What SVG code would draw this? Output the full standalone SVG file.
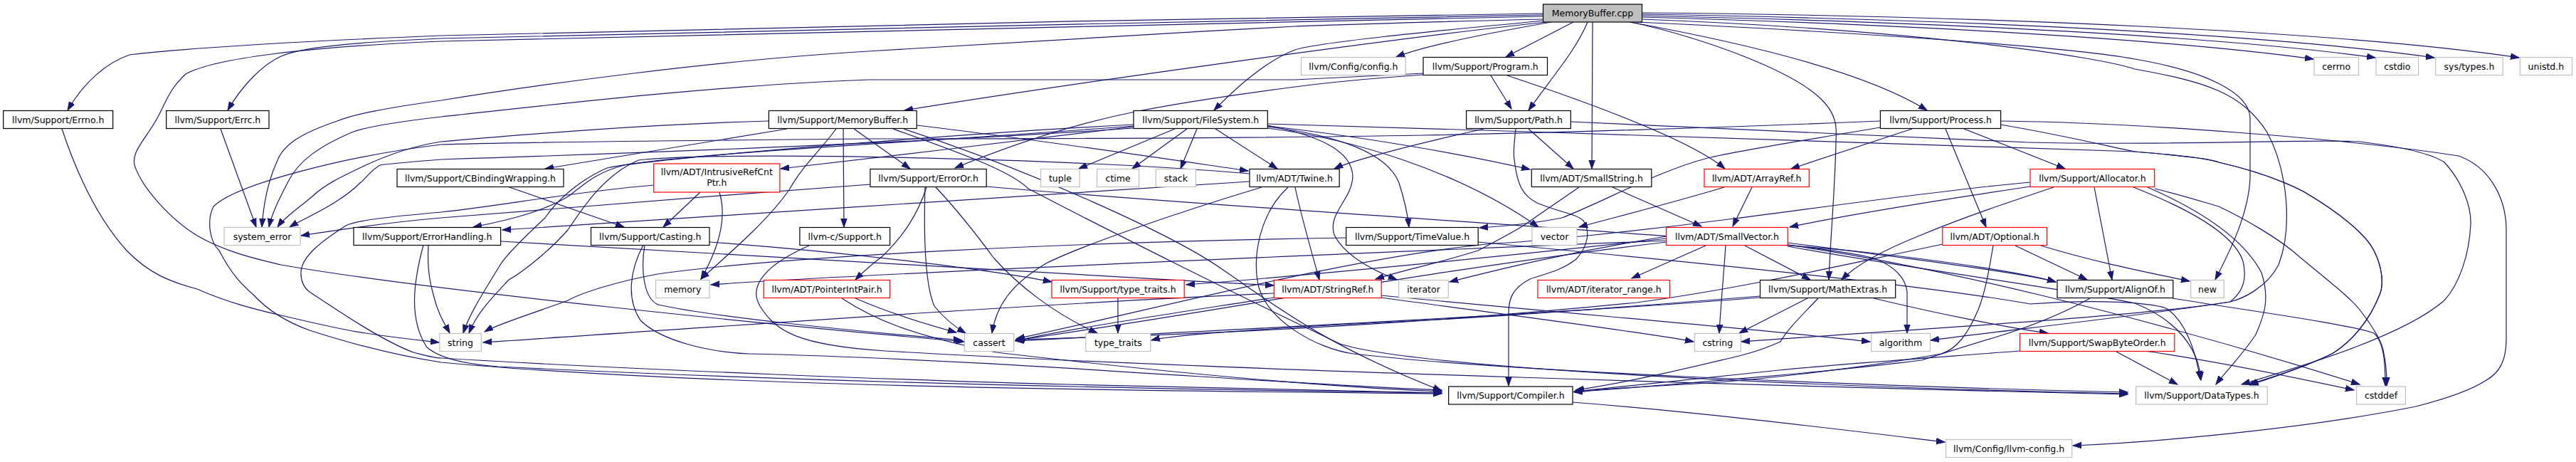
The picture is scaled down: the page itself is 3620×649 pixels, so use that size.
<svg xmlns="http://www.w3.org/2000/svg" width="3620" height="649" viewBox="0 0 3620 649">
<defs>
<marker id="a" markerUnits="userSpaceOnUse" markerWidth="14" markerHeight="10" refX="12" refY="5" orient="auto"><path d="M0,0.8 L12,5 L0,9.2 z" fill="#191970" stroke="#191970" stroke-width="1"/></marker>
<style>
.n rect{fill:#fff;stroke:#000;stroke-width:1.2}
.g rect{stroke:#bfbfbf}
.r rect{stroke:#ff0000}
.root rect{fill:#bfbfbf}
text{font-family:"DejaVu Sans","Liberation Sans",sans-serif;font-size:12.5px;text-anchor:middle;fill:#000}
#edges path{fill:none;stroke:#191970;stroke-width:1.2;marker-end:url(#a)}
</style>
</defs>
<rect width="3620" height="649" fill="#fff"/>
<g id="edges">
<path d="M2168,19 C1700,26 900,40 620,50 C420,58 260,68 182,77 C150,88 118,115 95,155"/>
<path d="M2168,21 C1700,30 900,46 620,54 C480,60 420,68 395,79 C370,90 340,120 320,155"/>
<path d="M2168,23 C1700,34 900,50 620,58 C430,66 300,82 261,104 C238,125 235,140 221,166 C205,195 182,215 190,235 C200,262 235,305 277,331 C320,356 370,366 395,372 C600,408 1100,458 1355,480"/>
<path d="M2168,27 C1950,32 1900,34 1820,37 C1600,48 1350,66 1220,72 C1000,85 750,120 620,141 C540,152 500,160 474,170 C430,185 400,200 390,225 C376,255 370,290 368,319"/>
<path d="M2172,31 C1950,55 1500,118 1271,155"/>
<path d="M2180,31 C2100,45 2000,65 1962,80"/>
<path d="M2211,31 L2116,80"/>
<path d="M2231,31 C2215,70 2180,110 2148,155"/>
<path d="M2238,31 L2237,237"/>
<path d="M2170,29 C2000,45 1850,60 1820,70 C1780,85 1740,120 1706,155"/>
<path d="M2290,31 C2450,60 2620,100 2708,155"/>
<path d="M2292,31 C2400,55 2520,100 2560,140 C2585,165 2580,185 2580,200 C2579,260 2572,340 2570,393"/>
<path d="M2307,24 C2800,38 3100,62 3251,83"/>
<path d="M2307,22 C2800,33 3150,55 3338,81"/>
<path d="M2307,20 C2800,28 3200,50 3421,81"/>
<path d="M2307,18 C2800,22 3300,45 3540,81"/>
<path d="M2300,31 C2600,45 2900,65 3000,83 C3100,100 3160,130 3162,165 L3162,250 C3160,300 3135,350 3113,393"/>
<path d="M2307,27 C2700,42 2950,80 3000,97 C3100,115 3150,130 3186,186 C3215,240 3222,320 3202,372 C3185,405 3150,420 3134,424 C3000,445 2700,462 2447,480"/>
<path d="M87,181 C110,250 140,310 178,352 C210,385 240,396 277,406 C320,425 360,435 395,443 C450,456 490,465 514,468 C560,475 590,478 617,481"/>
<path d="M310,181 L360,319"/>
<path d="M1080,170 C900,175 750,188 620,199 C580,205 540,220 514,232 C480,248 455,260 440,275 C420,292 400,305 390,319"/>
<path d="M1106,181 L766,237"/>
<path d="M1200,181 L1279,237"/>
<path d="M1288,176 C1450,195 1650,225 1754,240"/>
<path d="M1185,181 L1186,319"/>
<path d="M1175,181 C1150,215 1130,230 1110,265 C1080,310 1020,360 985,392"/>
<path d="M1255,181 C1350,215 1420,240 1445,265 C1550,320 1750,420 1883,483 C2000,520 2600,545 2990,553"/>
<path d="M1270,181 C1450,240 1650,330 1720,380 C1780,420 1850,480 2026,549"/>
<path d="M1593,178 C1450,195 1250,220 1097,237"/>
<path d="M1781,177 C1900,190 2050,215 2150,238"/>
<path d="M1708,181 L1795,237"/>
<path d="M1781,174 C2200,185 2700,205 3000,213 C3060,218 3100,222 3118,228 C3170,240 3210,255 3237,269 C3290,300 3325,330 3336,352 C3348,375 3350,400 3344,414 C3330,450 3305,480 3277,497 C3240,515 3200,528 3160,540"/>
<path d="M1593,175 C1400,185 1000,215 877,232 C840,242 825,255 800,275 C760,300 700,312 665,319"/>
<path d="M1781,178 C1880,190 1950,215 1966,257 C1975,285 1978,300 1980,319"/>
<path d="M1668,181 L1591,237"/>
<path d="M1781,176 C1850,190 1900,210 1901,248 C1900,280 1865,300 1875,330 C1890,360 1930,380 1963,393"/>
<path d="M1682,181 L1659,237"/>
<path d="M1593,177 C1300,200 950,215 853,236 C810,255 780,285 766,306 C735,335 710,360 703,372 C680,410 660,440 651,468"/>
<path d="M1593,180 C1300,200 900,215 620,224 C570,228 545,230 534,232 C520,240 515,250 506,257 C495,268 485,275 474,282 C450,298 425,308 407,319"/>
<path d="M1651,181 L1516,237"/>
<path d="M1781,180 C1900,195 2050,240 2162,319"/>
<path d="M2148,181 L2211,237"/>
<path d="M2085,181 C2000,200 1900,225 1875,237"/>
<path d="M2207,171 C2450,180 2650,192 2850,200 C3050,205 3250,195 3316,199 C3390,208 3420,218 3435,228 C3460,255 3473,290 3472,315 C3470,360 3455,400 3435,422 C3380,470 3250,510 3150,540"/>
<path d="M2130,181 C2128,200 2126,215 2128,224 C2132,260 2140,275 2160,285 C2190,298 2215,300 2225,310 C2235,325 2232,345 2215,364 C2195,380 2170,385 2150,392 C2125,405 2120,420 2120,440 L2120,542"/>
<path d="M2095,106 L2124,153"/>
<path d="M2118,106 C2250,150 2380,200 2424,237"/>
<path d="M2000,103 C1900,108 1850,111 1820,112 C1600,112 1400,111 1220,112 C1000,120 750,150 620,164 C550,172 510,180 494,186 C450,205 420,225 405,255 C392,280 382,300 378,319"/>
<path d="M2000,105 C1900,112 1850,118 1820,122 C1720,135 1640,148 1595,157 C1520,172 1430,200 1342,236"/>
<path d="M2687,181 L2517,237"/>
<path d="M2760,181 L2902,237"/>
<path d="M2734,181 L2791,319"/>
<path d="M2642,179 C2550,195 2450,210 2400,222 C2330,240 2250,285 2195,306 C2150,315 2110,318 2079,320"/>
<path d="M2811,175 C2900,190 2960,205 3000,213 C3060,218 3100,222 3118,228 C3170,240 3210,255 3237,269 C3290,300 3325,330 3336,352 C3348,375 3350,400 3344,414 C3330,450 3305,480 3277,497 C3240,515 3200,528 3162,541"/>
<path d="M2811,170 C3000,172 3300,195 3455,219 C3500,235 3522,280 3522,323 L3522,476 C3522,510 3510,525 3494,534 C3470,550 3430,562 3395,571 C3250,600 3050,620 2913,626"/>
<path d="M2642,170 C2400,180 2200,186 2000,190 C1700,195 1400,195 1220,195 C900,198 700,200 620,203 C480,220 330,260 300,290 C290,310 295,340 308,352 C325,385 340,400 356,414 C380,440 410,455 435,464 C500,485 560,500 620,509 C1000,545 1700,550 2026,553"/>
<path d="M713,262 L877,319"/>
<path d="M984,270 L932,319"/>
<path d="M1011,270 C1020,300 1015,340 985,392"/>
<path d="M919,260 C800,270 700,290 620,298 C540,305 500,310 486,317 C450,340 425,360 423,381 C422,395 428,405 435,410 C480,440 540,480 581,495 C600,500 610,503 620,503 C900,520 1300,535 1500,540 C1700,546 1900,550 2026,552"/>
<path d="M1302,263 C1290,300 1271,330 1240,360 C1220,375 1210,385 1202,393"/>
<path d="M1300,263 C1298,330 1300,400 1313,430 C1325,445 1340,458 1357,468"/>
<path d="M1315,263 C1350,300 1380,340 1397,363 C1430,400 1480,440 1542,468"/>
<path d="M1223,259 C1000,275 700,300 620,306 C550,312 480,322 423,331"/>
<path d="M1386,262 C1700,290 2300,325 2600,352 C2750,368 2850,385 2889,396"/>
<path d="M602,344 C600,380 605,400 609,414 C615,440 625,455 632,468"/>
<path d="M595,344 C580,400 575,450 600,488 C620,505 660,512 700,515 C1200,540 1700,548 2026,552"/>
<path d="M704,339 C1000,355 1400,380 1790,401"/>
<path d="M997,340 C1200,355 1400,380 1478,396"/>
<path d="M906,344 C900,380 905,420 925,428 C1000,445 1200,465 1352,478"/>
<path d="M904,344 C885,380 880,420 900,450 C930,480 1000,495 1053,497 C1400,505 1800,540 2026,548"/>
<path d="M1137,345 C1080,370 1050,400 1068,430 C1090,465 1120,485 1244,493 C1700,520 2600,545 2990,554"/>
<path d="M1202,419 C1250,440 1300,455 1344,467"/>
<path d="M1183,419 C1230,450 1280,470 1400,495 C1700,530 1900,545 2026,550"/>
<path d="M1892,334 C1500,340 1100,360 924,385 C870,395 820,410 798,422 C750,440 700,455 681,466"/>
<path d="M2077,340 C2400,370 2700,400 2853,427 C2950,420 3020,425 3044,433 C3070,450 3085,490 3092,533"/>
<path d="M1820,263 C1830,310 1845,360 1854,393"/>
<path d="M1773,263 C1650,300 1520,345 1470,370 C1420,400 1400,430 1394,468"/>
<path d="M1810,263 C1770,300 1760,360 1768,400 C1780,450 1850,490 1902,497 C2100,520 2600,542 2990,551"/>
<path d="M1756,255 C1500,270 1000,305 706,323"/>
<path d="M1756,244 C1500,222 1000,212 897,225 C850,245 820,290 798,323 C770,355 730,385 715,393 C690,420 670,440 659,468"/>
<path d="M2266,263 L2391,318"/>
<path d="M2219,263 C2180,290 2150,310 2144,315 C2120,330 2090,345 2077,352 C2020,370 1970,380 1933,392"/>
<path d="M2462,263 L2435,318"/>
<path d="M2423,263 C2350,285 2270,305 2219,319"/>
<path d="M2853,262 C2700,285 2580,305 2515,319"/>
<path d="M2886,263 C2820,285 2760,305 2700,330 C2650,350 2610,370 2588,393"/>
<path d="M2943,263 L2968,393"/>
<path d="M2998,263 C3080,295 3140,330 3152,367 C3160,400 3145,415 3134,424 C3000,445 2800,466 2713,478"/>
<path d="M3018,263 C3080,290 3150,330 3178,383 C3190,420 3182,443 3170,470 C3150,500 3125,525 3114,540"/>
<path d="M3028,265 C3070,275 3100,285 3118,290 C3160,310 3200,335 3221,352 C3260,385 3300,415 3316,435 C3335,460 3348,480 3350,497 C3354,515 3354,530 3354,542"/>
<path d="M2853,256 C2700,270 2500,300 2437,307 C2300,325 2150,340 2100,342 C1900,360 1600,440 1428,476"/>
<path d="M2832,345 L2933,393"/>
<path d="M2868,345 C2950,370 3030,385 3077,395"/>
<path d="M2801,345 C2795,380 2790,410 2780,435 C2765,470 2750,490 2728,497 C2600,520 2450,535 2400,538 C2330,542 2260,546 2212,550"/>
<path d="M2730,343 C2600,370 2450,405 2300,425 C2000,455 1700,470 1428,477"/>
<path d="M2397,345 L2293,391"/>
<path d="M2452,345 L2544,393"/>
<path d="M2425,345 C2422,390 2418,430 2416,468"/>
<path d="M2513,344 C2580,352 2620,358 2637,364 C2665,376 2678,392 2680,410 L2680,468"/>
<path d="M2512,341 C2700,365 2850,385 2889,396"/>
<path d="M2512,344 C2700,370 3000,440 3316,540"/>
<path d="M2512,346 C2700,380 2900,405 3000,426 C3060,450 3090,490 3093,534"/>
<path d="M2342,332 C2200,355 2100,380 2037,396"/>
<path d="M2342,335 C2100,362 1800,390 1667,400"/>
<path d="M2342,338 C1800,360 1200,385 999,400"/>
<path d="M2342,340 C2000,380 1700,440 1427,478"/>
<path d="M1790,412 C1400,430 1000,460 679,481"/>
<path d="M1790,418 C1650,440 1500,462 1427,479"/>
<path d="M1941,418 C2100,440 2300,465 2380,480"/>
<path d="M1941,415 C2200,440 2500,465 2628,480"/>
<path d="M1571,419 L1571,468"/>
<path d="M2540,419 L2444,468"/>
<path d="M2555,419 C2530,445 2510,465 2502,480 C2480,490 2460,496 2444,500 C2380,515 2300,535 2214,548"/>
<path d="M2633,419 C2720,440 2820,460 2878,468"/>
<path d="M2473,416 C2300,430 2100,445 2000,450 C1800,460 1650,470 1618,478"/>
<path d="M2473,418 C2200,440 1700,465 1427,479"/>
<path d="M2838,493 C2750,500 2600,510 2500,520 C2400,530 2300,540 2212,550"/>
<path d="M2974,494 L3060,540"/>
<path d="M3014,493 C3100,505 3200,525 3308,548"/>
<path d="M2937,419 C2900,440 2850,460 2800,475 C2750,490 2720,500 2700,506 C2550,525 2350,540 2212,551"/>
<path d="M3053,419 C3150,435 3300,455 3336,468 C3350,480 3352,510 3352,542"/>
<path d="M2210,565 C2400,580 2600,605 2733,621"/>
</g>
<g id="n_root" class="n root"><rect x="2168.5" y="6" width="139" height="25"/><text x="2238" y="23">MemoryBuffer.cpp</text></g>
<g id="n_config" class="n g"><rect x="1828.5" y="80.5" width="146.7" height="25"/><text x="1901.9" y="97.5">llvm/Config/config.h</text></g>
<g id="n_program" class="n"><rect x="2000" y="80.5" width="174.5" height="25"/><text x="2087.3" y="97.5">llvm/Support/Program.h</text></g>
<g id="n_cerrno" class="n g"><rect x="3252" y="80.5" width="62.5" height="25"/><text x="3283.2" y="97.5">cerrno</text></g>
<g id="n_cstdio" class="n g"><rect x="3339" y="80.5" width="59.6" height="25"/><text x="3368.8" y="97.5">cstdio</text></g>
<g id="n_systypes" class="n g"><rect x="3422.7" y="80.5" width="94.5" height="25"/><text x="3470" y="97.5">sys/types.h</text></g>
<g id="n_unistd" class="n g"><rect x="3541.3" y="80.5" width="73.2" height="25"/><text x="3577.9" y="97.5">unistd.h</text></g>
<g id="n_errno" class="n"><rect x="4.7" y="155.5" width="154" height="25"/><text x="81.7" y="172.5">llvm/Support/Errno.h</text></g>
<g id="n_errc" class="n"><rect x="233.7" y="155.5" width="144.3" height="25"/><text x="305.9" y="172.5">llvm/Support/Errc.h</text></g>
<g id="n_membuf" class="n"><rect x="1080.4" y="155.5" width="207.8" height="25"/><text x="1184.3" y="172.5">llvm/Support/MemoryBuffer.h</text></g>
<g id="n_fs" class="n"><rect x="1593" y="155.5" width="188.3" height="25"/><text x="1687.2" y="172.5">llvm/Support/FileSystem.h</text></g>
<g id="n_path" class="n"><rect x="2060.6" y="155.5" width="146.7" height="25"/><text x="2134" y="172.5">llvm/Support/Path.h</text></g>
<g id="n_process" class="n"><rect x="2642.4" y="155.5" width="169.2" height="25"/><text x="2727" y="172.5">llvm/Support/Process.h</text></g>
<g id="n_cbind" class="n"><rect x="558" y="237.5" width="234" height="25"/><text x="675" y="254.5">llvm/Support/CBindingWrapping.h</text></g>
<g id="n_irc" class="n r"><rect x="918.7" y="230" width="177.2" height="40"/><text x="1007.3" y="246">llvm/ADT/IntrusiveRefCnt</text><text x="1007.3" y="261">Ptr.h</text></g>
<g id="n_erroror" class="n"><rect x="1222.9" y="237.5" width="163.3" height="25"/><text x="1304.6" y="254.5">llvm/Support/ErrorOr.h</text></g>
<g id="n_tuple" class="n g"><rect x="1462.6" y="237.5" width="54.5" height="25"/><text x="1489.9" y="254.5">tuple</text></g>
<g id="n_ctime" class="n g"><rect x="1541.6" y="237.5" width="59" height="25"/><text x="1571.1" y="254.5">ctime</text></g>
<g id="n_stack" class="n g"><rect x="1624.3" y="237.5" width="56.1" height="25"/><text x="1652.4" y="254.5">stack</text></g>
<g id="n_twine" class="n"><rect x="1756" y="237.5" width="126.2" height="25"/><text x="1819.1" y="254.5">llvm/ADT/Twine.h</text></g>
<g id="n_smallstring" class="n"><rect x="2152.3" y="237.5" width="168.5" height="25"/><text x="2236.6" y="254.5">llvm/ADT/SmallString.h</text></g>
<g id="n_arrayref" class="n r"><rect x="2395" y="237.5" width="147.3" height="25"/><text x="2468.7" y="254.5">llvm/ADT/ArrayRef.h</text></g>
<g id="n_allocator" class="n r"><rect x="2853" y="237.5" width="174.7" height="25"/><text x="2940.4" y="254.5">llvm/Support/Allocator.h</text></g>
<g id="n_syserr" class="n g"><rect x="315" y="319.5" width="107" height="25"/><text x="368.5" y="336.5">system_error</text></g>
<g id="n_errhandling" class="n"><rect x="497" y="319.5" width="206.6" height="25"/><text x="600.3" y="336.5">llvm/Support/ErrorHandling.h</text></g>
<g id="n_casting" class="n"><rect x="830.5" y="319.5" width="166.5" height="25"/><text x="913.8" y="336.5">llvm/Support/Casting.h</text></g>
<g id="n_csupport" class="n"><rect x="1123.9" y="319.5" width="126.7" height="25"/><text x="1187.3" y="336.5">llvm-c/Support.h</text></g>
<g id="n_timevalue" class="n"><rect x="1891.7" y="319.5" width="185.5" height="25"/><text x="1984.5" y="336.5">llvm/Support/TimeValue.h</text></g>
<g id="n_vector" class="n g"><rect x="2153" y="319.5" width="63" height="25"/><text x="2184.5" y="336.5">vector</text></g>
<g id="n_smallvector" class="n r"><rect x="2341.7" y="319.5" width="170.6" height="25"/><text x="2427" y="336.5">llvm/ADT/SmallVector.h</text></g>
<g id="n_optional" class="n r"><rect x="2729.8" y="319.5" width="146.7" height="25"/><text x="2803.2" y="336.5">llvm/ADT/Optional.h</text></g>
<g id="n_memory" class="n g"><rect x="921.5" y="393.5" width="75.5" height="25"/><text x="959.3" y="410.5">memory</text></g>
<g id="n_pip" class="n r"><rect x="1073.3" y="393.5" width="177.3" height="25"/><text x="1162" y="410.5">llvm/ADT/PointerIntPair.h</text></g>
<g id="n_typetraitsh" class="n r"><rect x="1478" y="393.5" width="186.2" height="25"/><text x="1571.1" y="410.5">llvm/Support/type_traits.h</text></g>
<g id="n_stringref" class="n r"><rect x="1790.4" y="393.5" width="150.8" height="25"/><text x="1865.8" y="410.5">llvm/ADT/StringRef.h</text></g>
<g id="n_iterator" class="n g"><rect x="1965.7" y="393.5" width="69.6" height="25"/><text x="2000.5" y="410.5">iterator</text></g>
<g id="n_iterrange" class="n r"><rect x="2161" y="393.5" width="185.5" height="25"/><text x="2253.8" y="410.5">llvm/ADT/iterator_range.h</text></g>
<g id="n_mathextras" class="n"><rect x="2473.5" y="393.5" width="190.2" height="25"/><text x="2568.6" y="410.5">llvm/Support/MathExtras.h</text></g>
<g id="n_alignof" class="n"><rect x="2891" y="393.5" width="162.8" height="25"/><text x="2972.4" y="410.5">llvm/Support/AlignOf.h</text></g>
<g id="n_new" class="n g"><rect x="3078.7" y="393.5" width="46.6" height="25"/><text x="3102" y="410.5">new</text></g>
<g id="n_string" class="n g"><rect x="617.8" y="468.5" width="58.5" height="25"/><text x="647" y="485.5">string</text></g>
<g id="n_cassert" class="n g"><rect x="1355.4" y="468.5" width="69.2" height="25"/><text x="1390" y="485.5">cassert</text></g>
<g id="n_typetraits" class="n g"><rect x="1525.8" y="468.5" width="91" height="25"/><text x="1571.3" y="485.5">type_traits</text></g>
<g id="n_cstring" class="n g"><rect x="2381.3" y="468.5" width="65" height="25"/><text x="2413.8" y="485.5">cstring</text></g>
<g id="n_algorithm" class="n g"><rect x="2629.7" y="468.5" width="82.7" height="25"/><text x="2671" y="485.5">algorithm</text></g>
<g id="n_swap" class="n r"><rect x="2838.5" y="468.5" width="217.3" height="25"/><text x="2947.2" y="485.5">llvm/Support/SwapByteOrder.h</text></g>
<g id="n_compiler" class="n"><rect x="2035.7" y="543" width="174.3" height="25"/><text x="2122.9" y="560">llvm/Support/Compiler.h</text></g>
<g id="n_datatypes" class="n g"><rect x="3001.6" y="543" width="184.6" height="25"/><text x="3093.9" y="560">llvm/Support/DataTypes.h</text></g>
<g id="n_cstddef" class="n g"><rect x="3311.6" y="543" width="68.8" height="25"/><text x="3346" y="560">cstddef</text></g>
<g id="n_llvmconfig" class="n g"><rect x="2734.5" y="617.5" width="177.2" height="25"/><text x="2823.1" y="634.5">llvm/Config/llvm-config.h</text></g>
</svg>
